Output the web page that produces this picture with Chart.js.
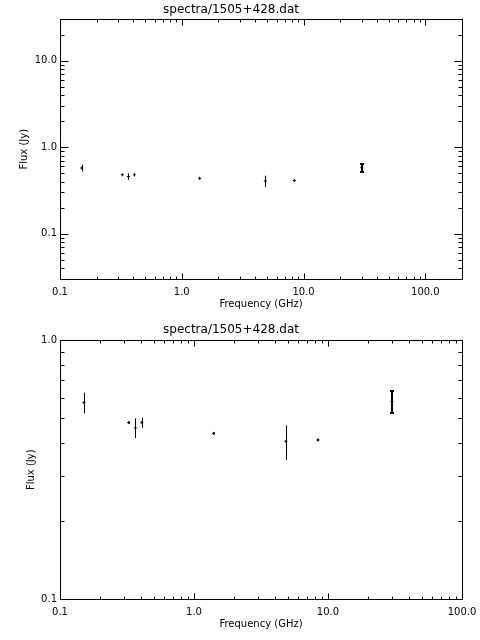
<!DOCTYPE html>
<html>
<head>
<meta charset="utf-8">
<title>spectra/1505+428.dat</title>
<script src="https://cdn.jsdelivr.net/npm/chart.js@4.4.1/dist/chart.umd.min.js"></script>
<style>
  body { margin: 0; background: #fff; }
  canvas { display: block; }
</style>
</head>
<body>
<canvas id="panelTop" width="480" height="320"></canvas>
<canvas id="panelBottom" width="480" height="320"></canvas>
<script>
// Values
const freqGHz = [0.151, 0.325, 0.365, 0.408, 1.4, 4.85, 8.4, 30.0];
const fluxJy = [0.575, 0.481, 0.459, 0.481, 0.437, 0.407, 0.412, 0.58];
const fluxErr = [0.053, 0.005, 0.040, 0.022, 0.004, 0.062, 0.004, 0.057];

const xTickValues = [0.1, 1, 10, 100];
const xTickLabels = ["0.1", "1.0", "10.0", "100.0"];
const yTickValuesTop = [0.1, 1, 10];
const yTickLabelsTop = ["0.1", "1.0", "10.0"];
const yTickValuesBottom = [0.1, 1];
const yTickLabelsBottom = ["0.1", "1.0"];

const titleText = "spectra/1505+428.dat";

Chart.defaults.font.family = "'DejaVu Sans', sans-serif";
Chart.defaults.font.size = 10;
Chart.defaults.color = "#000";

// minor/major positions of a log axis
function logSteps(min, max) {
    const out = [];
    for (let e = Math.floor(Math.log10(min)); e <= Math.ceil(Math.log10(max)); e++) {
        for (let k = 1; k <= 9; k++) {
            const v = k * Math.pow(10, e);
            if (v > min * 1.0001 && v < max * 0.9999) out.push({ v: v, major: k === 1 });
        }
    }
    return out;
}

function tickLabeler(values, labels) {
    return function (v) {
        const i = values.findIndex(t => Math.abs(t - v) < t * 1e-6);
        return i >= 0 ? labels[i] : "";
    };
}

// IDL style box: inward ticks on all sides, plus the error bars
const idlFrame = {
    id: "idlFrame",
    afterDatasetsDraw(chart, args, opts) {
        const ctx = chart.ctx;
        const a = chart.chartArea;
        const xs = chart.scales.x;
        const ys = chart.scales.y;
        const L = Math.round(a.left) + 0.5;
        const R = Math.round(a.right) + 0.5;
        const T = Math.round(a.top) + 0.5;
        const B = Math.round(a.bottom) + 0.5;

        ctx.save();
        ctx.strokeStyle = "#000";
        ctx.lineWidth = 1;
        ctx.strokeRect(L, T, R - L, B - T);

        ctx.beginPath();
        logSteps(xs.min, xs.max).forEach(t => {
            const px = Math.round(xs.getPixelForValue(t.v)) + 0.5;
            const len = t.major ? 6 : 3;
            ctx.moveTo(px, B); ctx.lineTo(px, B - len);
            ctx.moveTo(px, T); ctx.lineTo(px, T + len);
        });
        logSteps(ys.min, ys.max).forEach(t => {
            const py = Math.round(ys.getPixelForValue(t.v)) + 0.5;
            const len = t.major ? 8 : 4;
            ctx.moveTo(L, py); ctx.lineTo(L + len, py);
            ctx.moveTo(R, py); ctx.lineTo(R - len, py);
        });
        ctx.stroke();

        // error bars
        ctx.beginPath();
        ctx.rect(a.left, a.top, a.right - a.left, a.bottom - a.top);
        ctx.clip();
        const thick = opts.thick || [];
        freqGHz.forEach((f, i) => {
            const px = Math.round(xs.getPixelForValue(f));
            const y1 = ys.getPixelForValue(fluxJy[i] + fluxErr[i]);
            const y2 = ys.getPixelForValue(fluxJy[i] - fluxErr[i]);
            const bold = thick.includes(i);
            ctx.lineWidth = bold ? 2 : 1;
            const cx = bold ? px : px + 0.5;
            ctx.beginPath();
            ctx.moveTo(cx, y1);
            ctx.lineTo(cx, y2);
            if (bold) {
                ctx.moveTo(cx - 2, Math.round(y1)); ctx.lineTo(cx + 2, Math.round(y1));
                ctx.moveTo(cx - 2, Math.round(y2)); ctx.lineTo(cx + 2, Math.round(y2));
            }
            ctx.stroke();
        });
        ctx.restore();
    }
};

function makePanel(canvasId, xMax, yMin, yMax, yValues, yLabels, yTitlePad, titlePadBottom) {
    const points = freqGHz.map((f, i) => ({ x: f, y: fluxJy[i] }));
    return new Chart(document.getElementById(canvasId), {
        type: "scatter",
        data: {
            datasets: [{
                data: points,
                pointStyle: "cross",
                pointRadius: 1.5,
                borderColor: "#000",
                backgroundColor: "#000",
                borderWidth: 1
            }]
        },
        options: {
            responsive: false,
            animation: false,
            devicePixelRatio: 1,
            layout: { padding: { left: 0, right: 18, top: 0, bottom: 0 } },
            plugins: {
                legend: { display: false },
                tooltip: { enabled: false },
                title: {
                    display: true,
                    text: titleText,
                    color: "#000",
                    font: { size: 12, weight: "normal" },
                    padding: { top: 3, bottom: titlePadBottom }
                },
                idlFrame: { thick: [7] }
            },
            scales: {
                x: {
                    type: "logarithmic",
                    min: 0.1,
                    max: xMax,
                    grid: { display: false, drawTicks: false },
                    border: { display: false },
                    ticks: {
                        autoSkip: false,
                        maxRotation: 0,
                        padding: 7,
                        callback: tickLabeler(xTickValues, xTickLabels)
                    },
                    title: {
                        display: true,
                        text: "Frequency (GHz)",
                        font: { size: 10 },
                        padding: { top: 0, bottom: 10 }
                    },
                    afterFit(scale) {
                        scale.height = 41;
                        scale.paddingLeft = 0;
                        scale.paddingRight = 0;
                    }
                },
                y: {
                    type: "logarithmic",
                    min: yMin,
                    max: yMax,
                    grid: { display: false, drawTicks: false },
                    border: { display: false },
                    ticks: {
                        autoSkip: false,
                        padding: 3,
                        callback: tickLabeler(yValues, yLabels)
                    },
                    title: {
                        display: true,
                        text: "Flux (Jy)",
                        font: { size: 10 },
                        padding: { top: yTitlePad, bottom: 0 }
                    },
                    afterFit(scale) {
                        scale.width = 60;
                        scale.paddingTop = 0;
                        scale.paddingBottom = 0;
                    }
                }
            }
        },
        plugins: [idlFrame]
    });
}

makePanel("panelTop", 200, 0.03, 30, yTickValuesTop, yTickLabelsTop, 18, 2);
makePanel("panelBottom", 100, 0.1, 1, yTickValuesBottom, yTickLabelsBottom, 25, 3);
</script>
</body>
</html>
